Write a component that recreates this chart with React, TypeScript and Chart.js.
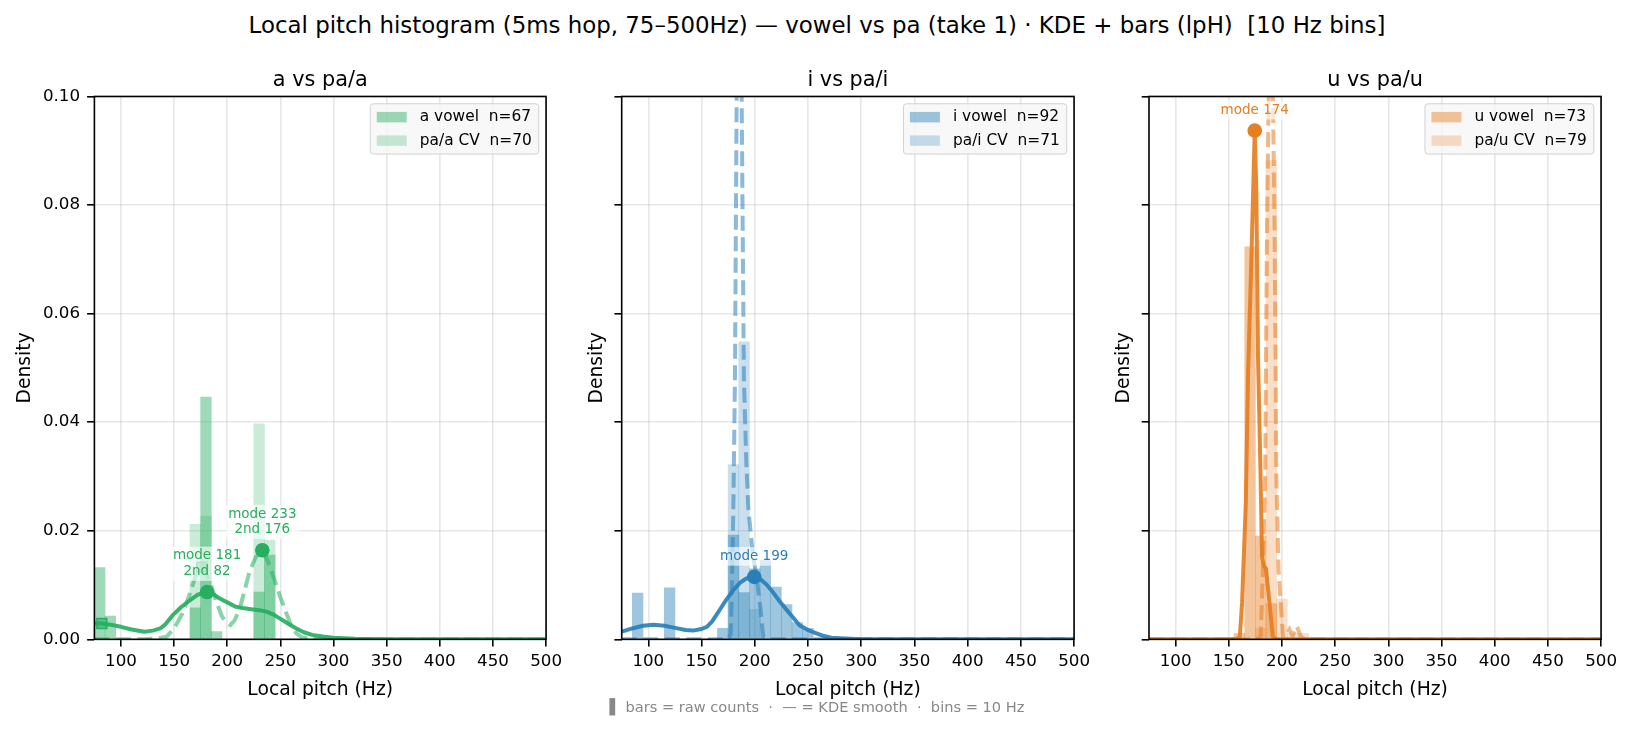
import React, { useEffect, useRef } from 'react';
import { Chart, registerables } from 'chart.js';
Chart.register(...registerables);

const FONT = "'DejaVu Sans', 'Liberation Sans', sans-serif";

// ---- shared axes ----
const X_TICKS = [100, 150, 200, 250, 300, 350, 400, 450, 500];
const Y_TICKS = [0, 0.02, 0.04, 0.06, 0.08, 0.1];

// ---- panel a ----
const A_VOWEL_BINS = [80, 90, 170, 180, 190, 230, 240];
const A_VOWEL_DENS = [0.0132, 0.0043, 0.0058, 0.0446, 0.0014, 0.0087, 0.0155];
const A_CV_BINS = [170, 180, 230, 240];
const A_CV_DENS = [0.0212, 0.0227, 0.0397, 0.0183];
const A_KDE_VOWEL_X = [75, 82, 90, 100, 110, 122, 130, 137, 142, 149, 157, 165, 172, 181, 187, 193, 200, 208, 216, 224, 232, 237, 243, 249, 257, 265, 272, 280, 290, 300, 320, 350, 400, 450, 500];
const A_KDE_VOWEL_Y = [0.0029, 0.0029, 0.0027, 0.0023, 0.0018, 0.0014, 0.0016, 0.002, 0.0028, 0.0045, 0.006, 0.0072, 0.0082, 0.0087, 0.0083, 0.0075, 0.0068, 0.006, 0.0057, 0.0055, 0.0053, 0.0051, 0.0046, 0.0039, 0.0029, 0.002, 0.0013, 0.0008, 0.0005, 0.0003, 0.0001, 0, 0, 0, 0];
const A_KDE_CV_X = [75, 100, 120, 130, 138, 143, 150, 158, 165, 170, 176, 180, 185, 190, 195, 200, 203, 207, 212, 217, 221, 227, 233, 238, 244.6, 250, 255.6, 260, 265, 270, 280, 290, 400, 500];
const A_KDE_CV_Y = [0, 0, 0, 0.0001, 0.0003, 0.0005, 0.002, 0.0048, 0.0085, 0.0115, 0.0133, 0.0122, 0.0098, 0.0068, 0.0042, 0.003, 0.0026, 0.0035, 0.0058, 0.0095, 0.0125, 0.0152, 0.0164, 0.0145, 0.0109, 0.0077, 0.0048, 0.0026, 0.0011, 0.0004, 0.0001, 0, 0, 0];
const A_MARK_X = [82, 181, 176, 233];
const A_MARK_Y = [0.0029, 0.0087, 0.0133, 0.0164];
const A_MARK_SHAPE = ['rect', 'circle', 'rect', 'circle'];
const A_MARK_NOTE = ['', 'mode 181\n2nd 82', '', 'mode 233\n2nd 176'];

// ---- panel i ----
const I_VOWEL_BINS = [90, 120, 170, 180, 190, 200, 210, 220, 230, 240, 250];
const I_VOWEL_DENS = [0.0085, 0.0095, 0.002, 0.0192, 0.0086, 0.013, 0.0145, 0.0096, 0.0064, 0.0031, 0.002];
const I_CV_BINS = [180, 190, 200];
const I_CV_DENS = [0.0322, 0.0548, 0.0055];
const I_KDE_VOWEL_X = [75, 85, 95, 105, 115, 125, 135, 142, 150, 155, 160, 167, 173, 180, 186, 192, 199.5, 205, 211, 217, 223, 230, 236, 242, 250, 258, 265, 272, 280, 290, 300, 400, 500];
const I_KDE_VOWEL_Y = [0.0014, 0.002, 0.0025, 0.0027, 0.0025, 0.0021, 0.0017, 0.0016, 0.0019, 0.0023, 0.0033, 0.0054, 0.0072, 0.0091, 0.0104, 0.0112, 0.0115, 0.0111, 0.0101, 0.0087, 0.0071, 0.0054, 0.004, 0.0026, 0.0017, 0.0011, 0.0006, 0.0003, 0.0002, 0.0001, 0, 0, 0];
const I_KDE_CV_X = [75, 150, 172, 176, 177.4, 178.3, 179.8, 181.4, 183, 185.5, 187.7, 189.8, 192, 194, 198, 202, 205.5, 208, 212, 300, 500];
const I_KDE_CV_Y = [0, 0, 0, 0.0003, 0.001, 0.0072, 0.023, 0.048, 0.1, 0.15, 0.1, 0.048, 0.033, 0.024, 0.016, 0.011, 0.0054, 0.0005, 0, 0, 0];
const I_MARK_X = [199.5];
const I_MARK_Y = [0.0115];
const I_MARK_SHAPE = ['circle'];
const I_MARK_NOTE = ['mode 199'];

// ---- panel u ----
const U_VOWEL_BINS = [160, 170, 180, 190];
const U_VOWEL_DENS = [0.0011, 0.0723, 0.019, 0.0066];
const U_CV_BINS = [180, 190, 200, 210, 220];
const U_CV_DENS = [0.002, 0.0882, 0.0074, 0.0011, 0.0011];
const U_KDE_VOWEL_X = [75, 150, 158, 160.4, 162.5, 166, 168.2, 171.3, 174.4, 175.9, 177.5, 179.8, 181.2, 183, 185, 186.5, 188.3, 191.4, 195, 300, 500];
const U_KDE_VOWEL_Y = [0, 0, 0.0001, 0.0005, 0.0067, 0.025, 0.0495, 0.0703, 0.0937, 0.0826, 0.052, 0.0311, 0.0152, 0.0135, 0.013, 0.01, 0.0067, 0.0005, 0, 0, 0];
const U_KDE_CV_X = [75, 150, 176, 180, 182, 184.3, 185, 186, 187.5, 189.5, 191.5, 193, 194, 194.6, 196.8, 200.9, 203, 207, 210, 214, 218, 222, 300, 500];
const U_KDE_CV_Y = [0, 0, 0, 0.0005, 0.0127, 0.031, 0.052, 0.0765, 0.1, 0.12, 0.1, 0.0765, 0.052, 0.031, 0.0127, 0.0005, 0.0003, 0.0018, 0.0006, 0.0024, 0.0004, 0, 0, 0];
const U_MARK_X = [174.4];
const U_MARK_Y = [0.0937];
const U_MARK_SHAPE = ['circle'];
const U_MARK_NOTE = ['mode 174'];

const GREEN = '#27ae60';
const BLUE = '#2980b9';
const ORANGE = '#e67e22';

const PANELS = [
  { title: 'a vs pa/a', color: GREEN, vLabel: 'a vowel  n=67', cLabel: 'pa/a CV  n=70',
    vBins: A_VOWEL_BINS, vDens: A_VOWEL_DENS, cBins: A_CV_BINS, cDens: A_CV_DENS,
    kvX: A_KDE_VOWEL_X, kvY: A_KDE_VOWEL_Y, kcX: A_KDE_CV_X, kcY: A_KDE_CV_Y,
    mX: A_MARK_X, mY: A_MARK_Y, mShape: A_MARK_SHAPE, mNote: A_MARK_NOTE },
  { title: 'i vs pa/i', color: BLUE, vLabel: 'i vowel  n=92', cLabel: 'pa/i CV  n=71',
    vBins: I_VOWEL_BINS, vDens: I_VOWEL_DENS, cBins: I_CV_BINS, cDens: I_CV_DENS,
    kvX: I_KDE_VOWEL_X, kvY: I_KDE_VOWEL_Y, kcX: I_KDE_CV_X, kcY: I_KDE_CV_Y,
    mX: I_MARK_X, mY: I_MARK_Y, mShape: I_MARK_SHAPE, mNote: I_MARK_NOTE },
  { title: 'u vs pa/u', color: ORANGE, vLabel: 'u vowel  n=73', cLabel: 'pa/u CV  n=79',
    vBins: U_VOWEL_BINS, vDens: U_VOWEL_DENS, cBins: U_CV_BINS, cDens: U_CV_DENS,
    kvX: U_KDE_VOWEL_X, kvY: U_KDE_VOWEL_Y, kcX: U_KDE_CV_X, kcY: U_KDE_CV_Y,
    mX: U_MARK_X, mY: U_MARK_Y, mShape: U_MARK_SHAPE, mNote: U_MARK_NOTE },
];

// layout (pixel placement of each canvas)
const LAYOUT = [
  { left: 0, L: 94.4, w: 567, padR: 20, yTitlePad: 13.75, showY: true },
  { left: 561, L: 60.7, w: 534, padR: 20.7, yTitlePad: 24.75, showY: false },
  { left: 1088, L: 61, w: 534, padR: 20.4, yTitlePad: 25.25, showY: false },
];

function rgba(hex: string, a: number) {
  const n = parseInt(hex.slice(1), 16);
  return `rgba(${(n >> 16) & 255},${(n >> 8) & 255},${n & 255},${a})`;
}
function zip(xs: number[], ys: number[]) {
  return xs.map((x, i) => ({ x, y: ys[i] }));
}

const GRID = 'rgba(176,176,176,0.3)';
const TICK_SIZE = 16.7;

function buildConfig(p: any, lay: any) {
  const overlay = {
    id: 'overlay' + p.title,
    afterDatasetsDraw(chart: any) {
      const { ctx, chartArea: ca } = chart;
      const xs = chart.scales.x, ys = chart.scales.y;
      ctx.save();
      // spines
      ctx.strokeStyle = '#000';
      ctx.lineWidth = 1.6;
      ctx.strokeRect(ca.left, ca.top, ca.right - ca.left, ca.bottom - ca.top);
      // annotations
      ctx.font = `13.5px ${FONT}`;
      ctx.textAlign = 'center';
      ctx.textBaseline = 'middle';
      p.mNote.forEach((note: string, i: number) => {
        if (!note) return;
        const lines = note.split('\n');
        const px = xs.getPixelForValue(p.mX[i]);
        const py = ys.getPixelForValue(p.mY[i]);
        const lh = 15.6;
        const lastY = py - 20.5;
        const firstY = lastY - lh * (lines.length - 1);
        const w = Math.max(...lines.map((l) => ctx.measureText(l).width));
        ctx.fillStyle = 'rgba(255,255,255,0.65)';
        ctx.fillRect(px - w / 2 - 2.5, firstY - lh / 2 - 1.5, w + 5, lh * lines.length + 3);
        ctx.fillStyle = p.color;
        lines.forEach((l, k) => ctx.fillText(l, px, firstY + k * lh));
      });
      // legend
      const items = chart.data.datasets.filter((d: any) => d.inLegend);
      ctx.font = `15.4px ${FONT}`;
      const tw = Math.max(...items.map((d: any) => ctx.measureText(d.label).width));
      const padL = 6.5, hw = 30, gap = 13, padRt = 7, rowH = 23.5, padTB = 13.4;
      const bw = padL + hw + gap + tw + padRt;
      const bh = padTB * 2 + rowH * (items.length - 1);
      const bx = ca.right - 7.3 - bw;
      const by = ca.top + 7.3;
      ctx.beginPath();
      if (ctx.roundRect) ctx.roundRect(bx, by, bw, bh, 3); else ctx.rect(bx, by, bw, bh);
      ctx.fillStyle = 'rgba(246,246,246,0.8)';
      ctx.fill();
      ctx.strokeStyle = '#d2d2d2';
      ctx.lineWidth = 1;
      ctx.stroke();
      ctx.textAlign = 'left';
      items.forEach((d: any, k: number) => {
        const cy = by + padTB + k * rowH;
        ctx.fillStyle = d.backgroundColor;
        ctx.fillRect(bx + padL, cy - 5.25, hw, 10.5);
        ctx.fillStyle = '#000';
        ctx.fillText(d.label, bx + padL + hw + gap, cy);
      });
      ctx.restore();
    },
  };

  const datasets: any[] = [
    { type: 'bar', label: p.vLabel, inLegend: true, data: zip(p.vBins, p.vDens),
      backgroundColor: rgba(p.color, 0.45), borderWidth: 0, grouped: false,
      barPercentage: 1, categoryPercentage: 1, order: 10 },
    { type: 'bar', label: p.cLabel, inLegend: true, data: zip(p.cBins, p.cDens),
      backgroundColor: rgba(p.color, 0.25), borderWidth: 0, grouped: false,
      barPercentage: 1, categoryPercentage: 1, order: 9 },
    { type: 'line', label: 'vowel KDE', data: zip(p.kvX, p.kvY), borderColor: rgba(p.color, 0.92),
      borderWidth: 4, pointRadius: 0, tension: 0, clip: 0, borderJoinStyle: 'round', order: 5 },
    { type: 'line', label: 'CV KDE', data: zip(p.kcX, p.kcY), borderColor: rgba(p.color, 0.55),
      borderWidth: 4, borderDash: [15, 6.5], pointRadius: 0, tension: 0, clip: 0, order: 4 },
    { type: 'line', label: 'modes', data: zip(p.mX, p.mY), showLine: false,
      pointStyle: p.mShape, pointRadius: p.mShape.map((s: string) => (s === 'rect' ? 7 : 7.3)),
      pointBackgroundColor: p.mShape.map((s: string) => (s === 'rect' ? rgba(p.color, 0.6) : p.color)),
      pointBorderColor: p.color,
      pointBorderWidth: p.mShape.map((s: string) => (s === 'rect' ? 1.5 : 0)), order: 1 },
  ];

  return {
    type: 'bar',
    data: { datasets },
    plugins: [overlay],
    options: {
      animation: false,
      responsive: false,
      events: [],
      layout: { padding: { left: 0, right: lay.padR, top: 0, bottom: 30.7 } },
      plugins: {
        legend: { display: false },
        tooltip: { enabled: false },
        title: { display: true, text: p.title, color: '#000', fullSize: false,
          font: { family: FONT, size: 20.8, weight: 'normal' }, padding: { top: 68.5, bottom: 3 } },
      },
      scales: {
        x: {
          type: 'linear', min: 75, max: 500, offset: false,
          afterBuildTicks: (s: any) => { s.ticks = X_TICKS.map((v) => ({ value: v })); },
          afterFit: (s: any) => { s.height = 62; },
          grid: { offset: false, color: GRID, lineWidth: 1.6, drawTicks: true, tickLength: 7.3,
            tickColor: '#000', tickWidth: 1.6 },
          border: { display: false },
          ticks: { color: '#000', font: { family: FONT, size: TICK_SIZE }, padding: 5,
            maxRotation: 0, autoSkip: false, callback: (v: any) => String(v) },
          title: { display: true, text: 'Local pitch (Hz)', color: '#000',
            font: { family: FONT, size: 18.75 }, padding: { top: 0, bottom: 0 } },
        },
        y: {
          type: 'linear', min: 0, max: 0.1,
          afterBuildTicks: (s: any) => { s.ticks = Y_TICKS.map((v) => ({ value: v })); },
          afterFit: (s: any) => { s.width = lay.L; },
          grid: { color: GRID, lineWidth: 1.6, drawTicks: true, tickLength: 7.3,
            tickColor: '#000', tickWidth: 1.6 },
          border: { display: false },
          ticks: { color: '#000', font: { family: FONT, size: TICK_SIZE }, padding: 7,
            callback: (v: any) => (lay.showY ? Number(v).toFixed(2) : '') },
          title: { display: true, text: 'Density', color: '#000',
            font: { family: FONT, size: 18.75 }, padding: { top: lay.yTitlePad, bottom: 0 } },
        },
      },
    },
  };
}

function Panel({ idx }: { idx: number }) {
  const ref = useRef<HTMLCanvasElement>(null);
  const lay = LAYOUT[idx];
  useEffect(() => {
    const chart = new Chart(ref.current as HTMLCanvasElement, buildConfig(PANELS[idx], lay) as any);
    return () => chart.destroy();
  }, [idx]);
  return (
    <canvas ref={ref} width={lay.w} height={732}
      style={{ position: 'absolute', left: lay.left, top: 0, width: lay.w, height: 732 }} />
  );
}

const SUPTITLE = 'Local pitch histogram (5ms hop, 75–500Hz) — vowel vs pa (take 1) · KDE + bars (lpH)  [10 Hz bins]';
const FOOTNOTE = '▌ bars = raw counts  ·  — = KDE smooth  ·  bins = 10 Hz';

export default function App() {
  return (
    <div style={{ position: 'absolute', left: 0, top: 0, width: 1634, height: 732, background: '#fff', overflow: 'hidden' }}>
      <div style={{ position: 'absolute', left: 0, top: 10, width: 1634, height: 30, lineHeight: '30px',
        textAlign: 'center', fontFamily: FONT, fontSize: 22.9, color: '#000', whiteSpace: 'pre' }}>{SUPTITLE}</div>
      {PANELS.map((_, i) => <Panel key={i} idx={i} />)}
      <div style={{ position: 'absolute', left: 0, top: 697, width: 1634, height: 20, lineHeight: '20px',
        textAlign: 'center', fontFamily: FONT, fontSize: 14.6, color: '#888', whiteSpace: 'pre' }}>{FOOTNOTE}</div>
    </div>
  );
}
